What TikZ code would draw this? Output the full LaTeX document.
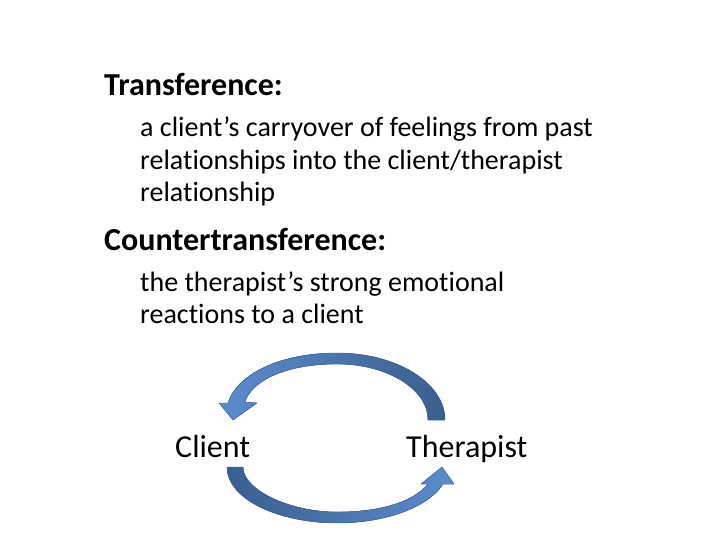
\documentclass[tikz,border=0pt]{standalone}
\usepackage{fontspec}
\setmainfont{Carlito}[Ligatures=NoCommon]
\definecolor{arrowlight}{RGB}{92,140,206}
\definecolor{arrowdark}{RGB}{58,94,142}
\definecolor{arrowedge}{RGB}{62,100,150}
\tikzset{
  headtext/.style={anchor=base west,inner sep=0pt,font=\fontsize{32}{38}\selectfont\bfseries},
  bodytext/.style={anchor=base west,inner sep=0pt,font=\fontsize{28}{33}\selectfont},
  roletext/.style={anchor=base west,inner sep=0pt,font=\fontsize{32}{38}\selectfont},
  bentarrow/.style={draw=arrowedge,line width=0.4pt}
}
\begin{document}
\begin{tikzpicture}[x=1pt,y=-1pt,line join=round]
\useasboundingbox[fill=white](0,0) rectangle (720,540);

% definitions
\node[headtext] (trans) at (104,96) {Transference:};
\node[bodytext] (transA) at (140,137) {a client’s carryover of feelings from past};
\node[bodytext] (transB) at (140,170) {relationships into the client/therapist};
\node[bodytext] (transC) at (140,202) {relationship};
\node[headtext] (counter) at (104,250) {Countertransference:};
\node[bodytext] (counterA) at (140,291) {the therapist’s strong emotional};
\node[bodytext] (counterB) at (140,323) {reactions to a client};

% the two parties
\node[roletext] (client) at (175,457) {Client};
\node[roletext] (therapist) at (406,457) {Therapist};

% upper arrow: therapist -> client
\filldraw[bentarrow,left color=arrowlight,right color=arrowdark]
  (445,420) .. controls (445,383) and (397,353) .. (337,353)
  .. controls (277,353) and (236,376) .. (228,403)
  -- (219,403) -- (233,420) -- (257,403) -- (245,402)
  .. controls (252,380) and (287,364) .. (337,364)
  .. controls (387,364) and (428,389) .. (428,420) -- cycle;

% lower arrow: client -> therapist
\filldraw[bentarrow,left color=arrowdark,right color=arrowlight]
  (227,467) .. controls (227,500) and (280,523) .. (337,523)
  .. controls (390,523) and (430,505) .. (443,484)
  -- (454,484) -- (442,467) -- (421,484) -- (428,484)
  .. controls (415,500) and (385,512) .. (337,512)
  .. controls (290,512) and (243,490) .. (243,467) -- cycle;
\end{tikzpicture}
\end{document}
